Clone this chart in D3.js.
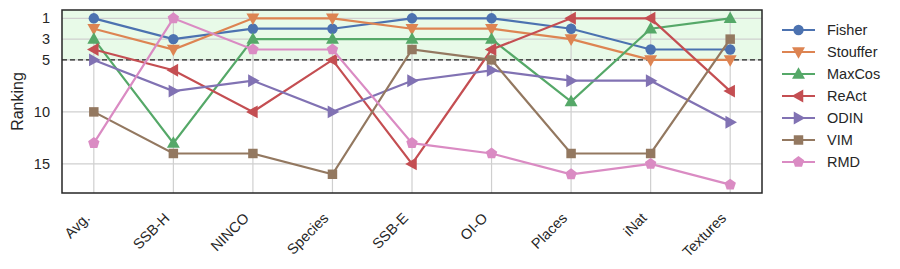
<!DOCTYPE html>
<html lang="en">
<head>
    <meta charset="UTF-8">
    <title>Ranking</title>
    <script src="https://d3js.org/d3.v7.min.js"></script>
    <style>
        body { margin: 0; background: #fff; }
        svg { display: block; font-family: "Liberation Sans", Arial, sans-serif; }
    </style>
</head>
<body>
    <script>
        const datasets = ["Avg.", "SSB-H", "NINCO", "Species", "SSB-E", "OI-O", "Places", "iNat", "Textures"];
        const methods = ["Fisher", "Stouffer", "MaxCos", "ReAct", "ODIN", "VIM", "RMD"];
        const fisher   = [1, 3, 2, 2, 1, 1, 2, 4, 4];
        const stouffer = [2, 4, 1, 1, 2, 2, 3, 5, 5];
        const maxcos   = [3, 13, 3, 3, 3, 3, 9, 2, 1];
        const react    = [4, 6, 10, 5, 15, 4, 1, 1, 8];
        const odin     = [5, 8, 7, 10, 7, 6, 7, 7, 11];
        const vim      = [10, 14, 14, 16, 4, 5, 14, 14, 3];
        const rmd      = [13, 1, 4, 4, 13, 14, 16, 15, 17];
        const yTicks = [1, 3, 5, 10, 15];
        const threshold = 5;

        const seriesValues = [fisher, stouffer, maxcos, react, odin, vim, rmd];
        const colors = ["#4C72B0", "#DD8452", "#55A868", "#C44E52", "#8172B3", "#937860", "#DA8BC3"];
        const markers = ["circle", "down", "up", "left", "right", "square", "pentagon"];

        const W = 900, H = 269;
        const plot = { left: 62, right: 762, top: 10, bottom: 193 };

        const svg = d3.select("body").append("svg")
            .attr("width", W)
            .attr("height", H);

        const x = d3.scaleLinear()
            .domain([-0.4, datasets.length - 1 + 0.4])
            .range([plot.left, plot.right]);

        const y = d3.scaleLinear()
            .domain([0.2, 17.8])
            .range([plot.top, plot.bottom]);

        // shaded "top 5" zone
        svg.append("rect")
            .attr("x", plot.left)
            .attr("y", plot.top)
            .attr("width", plot.right - plot.left)
            .attr("height", y(threshold) - plot.top)
            .attr("fill", "#e8fae8");

        // grid
        const grid = svg.append("g").attr("stroke", "#cfcfcf").attr("stroke-width", 1.2);
        datasets.forEach((d, i) => {
            grid.append("line")
                .attr("x1", x(i)).attr("x2", x(i))
                .attr("y1", plot.top).attr("y2", plot.bottom);
        });
        yTicks.forEach(t => {
            grid.append("line")
                .attr("x1", plot.left).attr("x2", plot.right)
                .attr("y1", y(t)).attr("y2", y(t));
        });

        // threshold line
        svg.append("line")
            .attr("x1", plot.left).attr("x2", plot.right)
            .attr("y1", y(threshold)).attr("y2", y(threshold))
            .attr("stroke", "#222")
            .attr("stroke-width", 1.3)
            .attr("stroke-dasharray", "5,3");

        function markerPath(type) {
            const s = 6.8;
            if (type === "circle") return d3.symbol(d3.symbolCircle, 85)();
            if (type === "square") return d3.symbol(d3.symbolSquare, 90)();
            if (type === "pentagon") {
                const r = 6;
                const pts = d3.range(5).map(k => {
                    const a = -Math.PI / 2 + k * 2 * Math.PI / 5;
                    return [r * Math.cos(a), r * Math.sin(a)];
                });
                return "M" + pts.join("L") + "Z";
            }
            // triangles pointing up, then rotated
            const pts = [[0, -s], [s * 0.95, s * 0.7], [-s * 0.95, s * 0.7]];
            const ang = { up: 0, down: 180, left: -90, right: 90 }[type] * Math.PI / 180;
            const rot = pts.map(([px, py]) => [
                px * Math.cos(ang) - py * Math.sin(ang),
                px * Math.sin(ang) + py * Math.cos(ang)
            ]);
            return "M" + rot.join("L") + "Z";
        }

        const line = d3.line()
            .x((d, i) => x(i))
            .y(d => y(d));

        seriesValues.forEach((vals, si) => {
            const g = svg.append("g");
            g.append("path")
                .datum(vals)
                .attr("d", line)
                .attr("fill", "none")
                .attr("stroke", colors[si])
                .attr("stroke-width", 2.2);
            g.selectAll("path.mk")
                .data(vals)
                .enter()
                .append("path")
                .attr("class", "mk")
                .attr("d", markerPath(markers[si]))
                .attr("transform", (d, i) => `translate(${x(i)},${y(d)})`)
                .attr("fill", colors[si]);
        });

        // frame
        svg.append("rect")
            .attr("x", plot.left)
            .attr("y", plot.top)
            .attr("width", plot.right - plot.left)
            .attr("height", plot.bottom - plot.top)
            .attr("fill", "none")
            .attr("stroke", "#262626")
            .attr("stroke-width", 1.5);

        // y tick labels
        svg.append("g").selectAll("text")
            .data(yTicks)
            .enter()
            .append("text")
            .attr("x", plot.left - 12)
            .attr("y", d => y(d))
            .attr("dy", "0.35em")
            .attr("text-anchor", "end")
            .attr("font-size", 14.5)
            .attr("fill", "#262626")
            .text(d => d);

        // x tick labels
        svg.append("g").selectAll("text")
            .data(datasets)
            .enter()
            .append("text")
            .attr("transform", (d, i) => `translate(${x(i) - 3},${plot.bottom + 26}) rotate(-45)`)
            .attr("text-anchor", "end")
            .attr("font-size", 14.5)
            .attr("fill", "#262626")
            .text(d => d);

        // y axis title
        svg.append("text")
            .attr("transform", `translate(23,${(plot.top + plot.bottom) / 2}) rotate(-90)`)
            .attr("text-anchor", "middle")
            .attr("font-size", 16)
            .attr("fill", "#262626")
            .text("Ranking");

        // legend
        const legend = svg.append("g");
        methods.forEach((m, i) => {
            const ly = 30 + i * 22;
            legend.append("line")
                .attr("x1", 782).attr("x2", 815)
                .attr("y1", ly).attr("y2", ly)
                .attr("stroke", colors[i])
                .attr("stroke-width", 2.2);
            legend.append("path")
                .attr("d", markerPath(markers[i]))
                .attr("transform", `translate(798.5,${ly})`)
                .attr("fill", colors[i]);
            legend.append("text")
                .attr("x", 827)
                .attr("y", ly)
                .attr("dy", "0.35em")
                .attr("font-size", 14.5)
                .attr("fill", "#262626")
                .text(m);
        });
    </script>
</body>
</html>
